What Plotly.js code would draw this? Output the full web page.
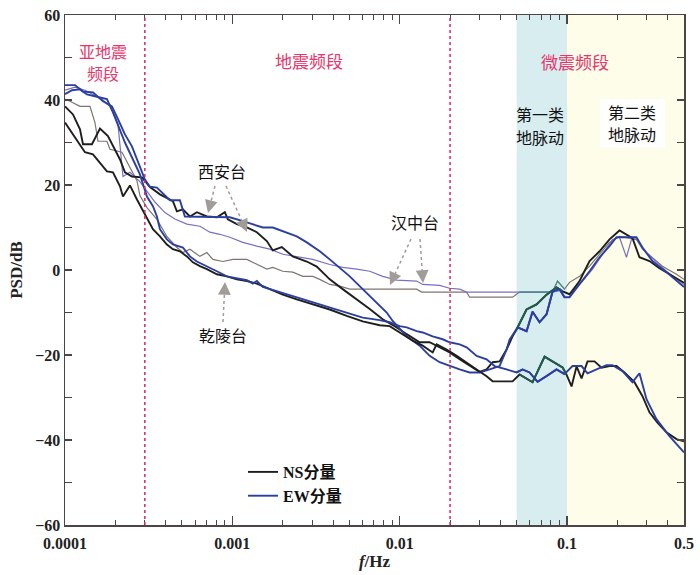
<!DOCTYPE html>
<html><head><meta charset="utf-8">
<script src="https://cdn.plot.ly/plotly-3.0.1.min.js"></script>
<style>html,body{margin:0;padding:0;background:#fff}#c{width:700px;height:575px}</style>
</head><body><div id="c"></div>
<script>
// Xi'an NS
const XN_f=[1.000e-4,1.116e-4,1.229e-4,1.281e-4,1.449e-4,1.618e-4,1.806e-4,1.935e-4,2.131e-4,2.282e-4,2.512e-4,2.883e-4,3.218e-4,3.692e-4,4.413e-4,4.663e-4,5.064e-4,5.578e-4,6.139e-4,7.044e-4,8.082e-4,9.020e-4,9.400e-4,1.064e-3,1.221e-3,1.401e-3,1.607e-3,1.745e-3,1.975e-3,2.297e-3,2.785e-3,3.195e-3,3.820e-3,4.567e-3,5.537e-3,6.622e-3,7.915e-3,9.596e-3,1.101e-2,1.316e-2,1.510e-2,1.733e-2,1.988e-2,2.282e-2,2.618e-2,3.004e-2,3.306e-2,3.592e-2,3.954e-2,4.353e-2,4.727e-2,4.993e-2,5.730e-2,6.575e-2,7.544e-2,8.656e-2,9.401e-2,0.1035,0.1188,0.1363,0.1564,0.1794,0.2058,0.2461,0.2709,0.3109,0.3567,0.4093,0.5];
const XN_v=[38.5,36.6,33.1,29.6,29.6,33.3,31.5,29.1,26.0,23.0,22.0,21.8,19.5,17.8,16.2,13.8,14.3,12.6,13.6,12.6,12.4,13.6,11.9,10.8,10.0,8.9,6.8,4.6,5.4,3.2,2.0,0.8,-2.2,-4.5,-6.9,-9.2,-11.6,-13.5,-15.1,-17.0,-17.0,-18.2,-19.4,-21.0,-22.6,-24.0,-23.4,-21.7,-21.5,-18.7,-15.6,-14.0,-9.3,-8.1,-5.8,-4.1,-5.0,-5.7,-2.6,2.1,4.4,7.2,9.3,7.5,3.0,2.1,0.4,-1.0,-3.0];
// Xi'an EW
const XE_f=[1.000e-4,1.147e-4,1.281e-4,1.469e-4,1.686e-4,1.908e-4,2.073e-4,2.282e-4,2.512e-4,2.804e-4,3.004e-4,3.218e-4,3.543e-4,4.236e-4,4.860e-4,5.205e-4,8.421e-4,9.662e-4,1.155e-3,1.326e-3,1.521e-3,1.745e-3,2.002e-3,2.427e-3,2.785e-3,3.330e-3,3.820e-3,4.383e-3,5.030e-3,6.013e-3,6.901e-3,8.363e-3,9.084e-3,1.101e-2,1.316e-2,1.510e-2,1.733e-2,1.988e-2,2.282e-2,2.618e-2,3.004e-2,3.446e-2,3.954e-2,4.353e-2,4.536e-2,5.064e-2,5.730e-2,6.225e-2,6.852e-2,7.544e-2,8.193e-2,9.020e-2,9.662e-2,0.1035,0.1188,0.1363,0.1564,0.1794,0.1975,0.2600,0.2823,0.3239,0.3927,0.5];
const XE_v=[43.5,43.5,42.0,41.8,39.7,38.5,35.5,31.9,29.1,24.0,21.3,19.6,19.4,16.4,16.4,12.6,12.4,12.4,11.5,10.8,10.0,10.0,9.1,7.9,6.5,4.4,2.5,0.6,-1.5,-4.5,-6.9,-10.0,-12.0,-15.6,-17.8,-20.2,-21.7,-22.6,-23.4,-24.1,-24.1,-23.4,-22.6,-18.7,-16.4,-13.5,-14.4,-9.8,-12.3,-10.4,-5.1,-4.5,-6.4,-6.4,-3.4,-0.3,3.0,5.6,7.7,7.7,5.3,2.1,-0.5,-4.0];
// Qianling NS
const QN_f=[1.000e-4,1.116e-4,1.229e-4,1.316e-4,1.469e-4,1.618e-4,1.781e-4,1.935e-4,2.131e-4,2.220e-4,2.444e-4,2.691e-4,3.088e-4,3.353e-4,3.692e-4,4.064e-4,4.413e-4,4.860e-4,5.351e-4,5.810e-4,6.398e-4,7.044e-4,8.082e-4,9.27e-4,1.064e-3,1.221e-3,1.401e-3,1.675e-3,2.002e-3,2.427e-3,3.024e-3,3.820e-3,4.825e-3,6.013e-3,7.595e-3,8.716e-3,1.0e-2,1.196e-2,1.372e-2,1.574e-2,1.663e-2,1.908e-2,2.190e-2,2.512e-2,2.883e-2,3.306e-2,3.592e-2,4.727e-2,5.205e-2,6.225e-2,7.341e-2,9.401e-2,0.0993,0.1064,0.1140,0.1221,0.1326,0.1460,0.1607,0.1794,0.1975,0.2204,0.2529,0.2823,0.3109,0.3470,0.3927,0.4506,0.5];
const QN_v=[34.7,31.9,29.6,27.7,27.2,25.3,23.2,23.0,19.7,17.3,19.9,16.6,12.2,9.6,7.9,6.0,4.9,4.4,3.2,1.8,0.9,0.2,-1.0,-1.5,-2.2,-2.6,-3.2,-4.5,-5.8,-6.9,-8.1,-9.3,-10.8,-12.1,-13.0,-13.2,-14.7,-16.6,-17.8,-19.4,-17.5,-18.7,-20.2,-21.7,-23.4,-25.0,-26.2,-26.2,-24.6,-26.4,-20.4,-22.9,-24.6,-27.4,-22.7,-25.5,-21.5,-21.5,-23.0,-22.6,-22.6,-24.1,-26.4,-29.7,-33.5,-35.9,-38.2,-39.8,-40.3];
// Qianling EW
const QE_f=[1.000e-4,1.101e-4,1.229e-4,1.353e-4,1.618e-4,1.781e-4,1.935e-4,2.131e-4,2.282e-4,2.547e-4,2.804e-4,3.088e-4,3.353e-4,3.543e-4,3.692e-4,4.064e-4,4.413e-4,5.064e-4,5.578e-4,6.139e-4,7.044e-4,8.082e-4,9.27e-4,1.109e-3,1.221e-3,1.326e-3,1.401e-3,1.521e-3,1.921e-3,2.427e-3,3.024e-3,3.820e-3,4.825e-3,6.013e-3,7.595e-3,8.716e-3,1.0e-2,1.101e-2,1.263e-2,1.372e-2,1.574e-2,1.806e-2,1.988e-2,2.282e-2,2.512e-2,2.883e-2,3.306e-2,3.692e-2,4.353e-2,4.993e-2,5.425e-2,5.972e-2,6.666e-2,7.544e-2,8.656e-2,9.662e-2,0.1078,0.1221,0.1326,0.1501,0.1721,0.1869,0.2145,0.2461,0.2709,0.2984,0.3422,0.4093,0.5];
const QE_v=[41.4,42.3,42.5,41.3,40.6,40.2,37.1,33.1,30.0,26.0,22.5,17.3,15.0,12.6,9.6,7.2,6.0,5.3,3.2,2.0,0.9,-0.3,-1.5,-2.2,-2.4,-3.2,-2.6,-4.0,-5.2,-6.4,-7.6,-8.8,-10.0,-11.2,-11.8,-12.3,-13.2,-13.5,-14.4,-14.7,-15.6,-16.3,-17.0,-17.5,-18.2,-20.2,-21.0,-22.6,-23.4,-24.1,-23.4,-24.1,-26.3,-25.0,-23.4,-24.5,-22.6,-22.6,-24.3,-23.4,-22.4,-22.4,-23.8,-26.4,-24.3,-30.4,-35.1,-39.1,-42.9];
// Hanzhong NS
const HN_f=[1.000e-4,1.071e-4,1.229e-4,1.410e-4,1.510e-4,1.574e-4,1.781e-4,1.856e-4,2.190e-4,2.444e-4,2.691e-4,2.804e-4,3.088e-4,3.543e-4,4.064e-4,4.663e-4,5.064e-4,5.578e-4,6.398e-4,7.044e-4,7.650e-4,8.776e-4,1.007e-3,1.221e-3,1.401e-3,1.607e-3,1.745e-3,2.002e-3,2.297e-3,2.636e-3,3.024e-3,3.330e-3,3.820e-3,4.383e-3,5.030e-3,1.263e-2,1.353e-2,2.512e-2,2.618e-2,4.727e-2,5.205e-2,8.193e-2,8.776e-2,9.662e-2,0.1035,0.1188,0.1363,0.1564,0.1794,0.2058,0.2600,0.2823,0.3239,0.3717,0.4506,0.5];
const HN_v=[40.2,39.7,38.5,38.5,34.7,30.3,30.3,28.4,27.7,24.0,21.0,17.5,14.7,11.9,7.9,5.3,4.1,4.9,3.2,4.1,2.5,2.0,2.5,2.5,1.3,0.2,0.6,-0.3,-0.5,-1.5,-1.5,-2.2,-3.4,-3.8,-4.5,-4.5,-5.2,-5.2,-6.4,-6.4,-5.2,-5.2,-2.6,-4.5,-2.9,-1.5,0.9,3.7,6.5,7.9,7.2,4.9,3.0,0.9,-1.0,-2.2];
// Hanzhong EW
const HE_f=[1.000e-4,1.147e-4,1.316e-4,1.510e-4,1.686e-4,1.856e-4,1.935e-4,2.073e-4,2.220e-4,2.444e-4,2.804e-4,3.130e-4,3.446e-4,3.954e-4,4.536e-4,5.351e-4,6.398e-4,7.341e-4,8.421e-4,9.662e-4,1.155e-3,1.401e-3,1.675e-3,2.002e-3,2.427e-3,3.024e-3,3.820e-3,4.567e-3,5.537e-3,6.622e-3,7.915e-3,9.596e-3,1.263e-2,1.372e-2,1.733e-2,1.988e-2,2.282e-2,2.512e-2,8.193e-2,9.020e-2,0.1035,0.1237,0.1421,0.1721,0.1869,0.2058,0.2265,0.2427,0.2600,0.2984,0.3422,0.3927,0.5];
const HE_v=[42.3,43.0,42.3,41.0,40.0,38.5,37.1,34.3,22.0,23.0,20.8,18.2,16.0,13.5,12.0,10.8,10.3,8.9,8.4,7.7,6.5,5.6,4.9,3.7,3.2,2.5,1.3,0.6,0.2,-0.3,-1.5,-2.4,-2.6,-3.4,-3.6,-4.3,-4.5,-5.2,-5.2,-4.8,-5.7,-2.6,0.2,4.9,7.2,7.7,3.0,7.2,7.2,4.1,1.8,-0.3,-3.4];

const TICK_VALS=[1e-4,1e-3,1e-2,0.1,0.5];
const TICK_TEXT=['0.0001','0.001','0.01','0.1','0.5'];
const MINOR_VALS=[2e-4,3e-4,4e-4,5e-4,6e-4,7e-4,8e-4,9e-4,2e-3,3e-3,4e-3,5e-3,6e-3,7e-3,8e-3,9e-3,2e-2,3e-2,4e-2,5e-2,6e-2,7e-2,8e-2,9e-2,0.2,0.3,0.4];

const BLACK='#1e1e1e', BLUE='#2b3fa0', GRAY='#7d7570', PURPLE='#7a6fc2';
function band(f,v,lo,hi){const x=[],y=[];f.forEach((q,i)=>{if(q>=lo&&q<=hi){x.push(q);y.push(v[i]);}});return {x,y};}
function tr(f,v,color,w,name,show){return {x:f,y:v,type:'scatter',mode:'lines',line:{color:color,width:w},name:name||'',showlegend:!!show,hoverinfo:'skip'};}

const traces=[
 tr(HN_f,HN_v,GRAY,1.2),
 tr(HE_f,HE_v,PURPLE,1.2),
 tr(XN_f,XN_v,BLACK,1.9,'NS分量',true),
 tr(XE_f,XE_v,BLUE,1.9,'EW分量',true),
 tr(QN_f,QN_v,BLACK,1.9),
 tr(QE_f,QE_v,BLUE,1.9)
];
[[HN_f,HN_v,'#4b8f86',1.2],[HE_f,HE_v,'#5b8fb8',1.2],[XN_f,XN_v,'#1f5e4e',1.9],[QN_f,QN_v,'#1f5e4e',1.9]].forEach(a=>{
  const b=band(a[0],a[1],0.049,0.1); traces.push(tr(b.x,b.y,a[2],a[3]));
});
const bq=band(XE_f,XE_v,0.049,0.1), bq2=band(QE_f,QE_v,0.049,0.1);
traces.push(tr(bq.x,bq.y,BLUE,1.9)); traces.push(tr(bq2.x,bq2.y,BLUE,1.9));

const L=65,T=15,W=619,H=510;
const px=X=>(X-L)/W, py=Y=>(T+H-Y)/H;
const CJK='Noto Sans CJK SC';
const PINK='#e8356a';
function lab(X,Y,text,color,size){return {xref:'paper',yref:'paper',x:px(X),y:py(Y),text:text,showarrow:false,xanchor:'center',yanchor:'middle',font:{family:CJK,size:size,color:color}};}
const ann=[
 lab(103,51,'亚地震',PINK,16),
 lab(103,73,'频段',PINK,16),
 lab(309,60,'地震频段',PINK,17),
 lab(575,61,'微震频段',PINK,17),
 lab(540,114,'第一类','#111',16),
 lab(540,137,'地脉动','#111',16),
 lab(632,112,'第二类','#111',16),
 lab(632,134,'地脉动','#111',16),
 lab(222,171,'西安台','#111',16),
 lab(415,222,'汉中台','#111',16),
 lab(223,335,'乾陵台','#111',16)
];
const ARR='#a29c99';
const arrows=[[215,186,208,213],[226,186,247,232],[411,239,390,285],[420,239,423,283],[223,322,225,282]];
const shapes=[
 {type:'rect',xref:'x',yref:'paper',x0:0.05,x1:0.1,y0:0,y1:1,fillcolor:'#d7edf0',line:{width:0},layer:'below'},
 {type:'rect',xref:'x',yref:'paper',x0:0.1,x1:0.5,y0:0,y1:1,fillcolor:'#fefdea',line:{width:0},layer:'below'},
 {type:'rect',xref:'paper',yref:'paper',x0:px(600),x1:px(665),y0:py(148),y1:py(99),fillcolor:'#ffffff',line:{width:0},layer:'below'},
 {type:'line',xref:'x',yref:'paper',x0:3e-4,x1:3e-4,y0:0,y1:1,line:{color:'#e0245e',width:1.5,dash:'dot'}},
 {type:'line',xref:'x',yref:'paper',x0:0.02,x1:0.02,y0:0,y1:1,line:{color:'#e0245e',width:1.5,dash:'dot'}}
];
arrows.forEach(a=>{
  const dx=a[2]-a[0], dy=a[3]-a[1], len=Math.hypot(dx,dy);
  const hx=a[2]-dx/len*8, hy=a[3]-dy/len*8;
  shapes.push({type:'line',xref:'paper',yref:'paper',x0:px(a[0]),y0:py(a[1]),x1:px(hx),y1:py(hy),line:{color:ARR,width:1.5,dash:'dot'}});
  ann.push({xref:'paper',yref:'paper',x:px(a[2]),y:py(a[3]),ax:-dx/len*11,ay:-dy/len*11,text:'',showarrow:true,arrowhead:2,arrowsize:1.6,arrowwidth:1.6,arrowcolor:ARR});
});

const SERIF='Liberation Serif';
const axisCommon={showline:true,linecolor:'#4d4545',linewidth:1.5,mirror:'ticks',ticks:'inside',tickcolor:'#4d4545',showgrid:false,zeroline:false,
  tickfont:{family:SERIF,size:16,color:'#222',weight:'bold'}};
const layout={
 width:700,height:575,margin:{l:L,r:700-L-W,t:T,b:575-T-H},paper_bgcolor:'#fff',plot_bgcolor:'rgba(0,0,0,0)',
 xaxis:Object.assign({},axisCommon,{type:'log',range:[-4,Math.log10(0.5)],tickmode:'array',tickvals:TICK_VALS,ticktext:TICK_TEXT,ticklen:9,tickwidth:1.3,ticklabelstandoff:3,
   minor:{tickmode:'array',tickvals:MINOR_VALS,ticks:'inside',ticklen:5,tickcolor:'#4d4545',tickwidth:1},
   title:{text:'<i>f</i>/Hz',font:{family:SERIF,size:17,color:'#222',weight:'bold'},standoff:0}}),
 yaxis:Object.assign({},axisCommon,{range:[-60,60],tickmode:'linear',tick0:-60,dtick:20,ticklen:7,tickwidth:1.3,
   minor:{dtick:10,ticks:'inside',ticklen:7,tickcolor:'#4d4545',tickwidth:1},
   title:{text:'PSD/dB',font:{family:SERIF,size:17,color:'#222',weight:'bold'},standoff:8}}),
 showlegend:true,
 legend:{x:px(243),y:py(455),xanchor:'left',yanchor:'top',bgcolor:'rgba(0,0,0,0)',font:{family:SERIF+', '+CJK,size:16,color:'#111',weight:'bold'},tracegroupgap:0},
 shapes:shapes,annotations:ann
};
Plotly.newPlot('c',traces,layout,{staticPlot:true});
</script></body></html>
